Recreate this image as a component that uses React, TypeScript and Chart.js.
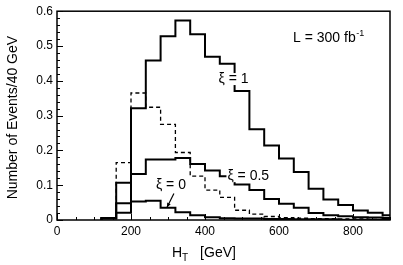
import { useEffect, useRef } from "react";
import { Chart, registerables } from "chart.js";
Chart.register(...registerables);

// bin lower edges (GeV), 40 GeV bins; last edge closes the final bin
const binEdges = [120, 160, 200, 240, 280, 320, 360, 400, 440, 480, 520, 560, 600, 640, 680, 720, 760, 800, 840, 880, 920];

const xi1 = [0.006, 0.107, 0.321, 0.458, 0.528, 0.573, 0.534, 0.469, 0.449, 0.371, 0.261, 0.214, 0.177, 0.138, 0.090, 0.059, 0.043, 0.027, 0.021, 0.014];
const xi05 = [0.005, 0.048, 0.132, 0.174, 0.174, 0.178, 0.161, 0.142, 0.126, 0.102, 0.086, 0.060, 0.047, 0.035, 0.020, 0.014, 0.011, 0.008, 0.007, 0.006];
const xi0 = [0.004, 0.021, 0.053, 0.055, 0.035, 0.022, 0.014, 0.008, 0.005, 0.004, 0.004, 0.003, 0.003, 0.002, 0.002, 0.002, 0.001, 0.001, 0.001, 0.001];
const dashedSeries = [0.005, 0.165, 0.365, 0.324, 0.275, 0.194, 0.126, 0.086, 0.065, 0.028, 0.017, 0.010, 0.007, 0.005, 0.004, 0.004, 0.003, 0.003, 0.002, 0.002];

const xMajorTicks = [0, 200, 400, 600, 800];
const yMajorTicks = [0, 0.1, 0.2, 0.3, 0.4, 0.5, 0.6];

const FONT = '"Liberation Sans", Arial, Helvetica, sans-serif';

function toSteps(vals: number[]) {
  const pts: { x: number; y: number }[] = [{ x: binEdges[0], y: 0 }];
  vals.forEach((v, i) => pts.push({ x: binEdges[i], y: v }));
  pts.push({ x: binEdges[vals.length], y: vals[vals.length - 1] });
  return pts;
}

function boxedLabel(ctx: any, text: string, x: number, y: number) {
  const w = ctx.measureText(text).width;
  ctx.fillStyle = "#fff";
  ctx.fillRect(x - w / 2 - 1, y - 6, w + 2, 12);
  ctx.fillStyle = "#000";
  ctx.fillText(text, x, y);
}

const decorPlugin = {
  id: "decor",
  afterDraw(chart: any) {
    const { ctx, chartArea: a, scales } = chart;
    const xs = scales.x;
    const ys = scales.y;
    ctx.save();
    // frame
    ctx.strokeStyle = "#000";
    ctx.lineWidth = 1.5;
    ctx.strokeRect(a.left, a.top, a.right - a.left, a.bottom - a.top);
    // inward ticks
    ctx.lineWidth = 1;
    for (let v = 0; v <= 900; v += 50) {
      const px = Math.round(xs.getPixelForValue(v)) + 0.5;
      const len = v % 200 === 0 ? 6 : 3;
      ctx.beginPath();
      ctx.moveTo(px, a.bottom);
      ctx.lineTo(px, a.bottom - len);
      ctx.stroke();
    }
    for (let i = 0; i <= 30; i++) {
      const v = i * 0.02;
      const py = Math.round(ys.getPixelForValue(v)) + 0.5;
      const len = i % 5 === 0 ? 6 : 3;
      ctx.beginPath();
      ctx.moveTo(a.left, py);
      ctx.lineTo(a.left + len, py);
      ctx.stroke();
    }
    // annotations
    ctx.fillStyle = "#000";
    ctx.textBaseline = "middle";
    ctx.textAlign = "center";
    ctx.font = `14px ${FONT}`;
    boxedLabel(ctx, "ξ = 1", xs.getPixelForValue(477), ys.getPixelForValue(0.405));
    boxedLabel(ctx, "ξ = 0.5", xs.getPixelForValue(517), ys.getPixelForValue(0.126));
    boxedLabel(ctx, "ξ = 0", xs.getPixelForValue(308), ys.getPixelForValue(0.1));
    // arrow for xi = 0
    const ax1 = xs.getPixelForValue(316), ay1 = ys.getPixelForValue(0.076);
    const ax2 = xs.getPixelForValue(297), ay2 = ys.getPixelForValue(0.036);
    ctx.lineWidth = 1.2;
    ctx.beginPath();
    ctx.moveTo(ax1, ay1);
    ctx.lineTo(ax2, ay2);
    ctx.stroke();
    const ang = Math.atan2(ay2 - ay1, ax2 - ax1);
    ctx.beginPath();
    ctx.moveTo(ax2, ay2);
    ctx.lineTo(ax2 - 5 * Math.cos(ang - 0.4), ay2 - 5 * Math.sin(ang - 0.4));
    ctx.lineTo(ax2 - 5 * Math.cos(ang + 0.4), ay2 - 5 * Math.sin(ang + 0.4));
    ctx.closePath();
    ctx.fill();
    // luminosity
    ctx.textAlign = "left";
    ctx.font = `14px ${FONT}`;
    const lx = xs.getPixelForValue(638);
    const ly = ys.getPixelForValue(0.522);
    const main = "L = 300 fb";
    ctx.fillText(main, lx, ly);
    const w = ctx.measureText(main).width;
    ctx.font = `9px ${FONT}`;
    ctx.fillText("-1", lx + w + 0.5, ly - 5);
    // x title with subscript
    ctx.font = `14px ${FONT}`;
    const tx = 172, ty = 253;
    ctx.fillText("H", tx, ty);
    const hw = ctx.measureText("H").width;
    ctx.font = `10px ${FONT}`;
    ctx.fillText("T", tx + hw, ty + 5);
    ctx.font = `14px ${FONT}`;
    ctx.fillText("[GeV]", tx + hw + 18, ty);
    // y title
    ctx.save();
    ctx.translate(13, (a.top + a.bottom) / 2 + 2);
    ctx.rotate(-Math.PI / 2);
    ctx.textAlign = "center";
    ctx.font = `14px ${FONT}`;
    ctx.fillText("Number of Events/40 GeV", 0, 0);
    ctx.restore();
    ctx.restore();
  },
};

export default function App() {
  const ref = useRef<HTMLCanvasElement | null>(null);
  useEffect(() => {
    document.body.style.margin = "0";
    if (!ref.current) return;
    const common = { pointRadius: 0, stepped: "before" as const, fill: false, borderColor: "#000" };
    const chart = new Chart(ref.current, {
      type: "line",
      data: {
        datasets: [
          { ...common, label: "dashed", data: toSteps(dashedSeries), borderWidth: 1.3, borderDash: [4, 3] },
          { ...common, label: "xi=0", data: toSteps(xi0), borderWidth: 2 },
          { ...common, label: "xi=0.5", data: toSteps(xi05), borderWidth: 2 },
          { ...common, label: "xi=1", data: toSteps(xi1), borderWidth: 2 },
        ],
      },
      options: {
        animation: false,
        responsive: false,
        maintainAspectRatio: false,
        layout: { padding: { top: 5, right: 13, left: 0, bottom: 0 } },
        plugins: { legend: { display: false }, tooltip: { enabled: false } },
        scales: {
          x: {
            type: "linear",
            min: 0,
            max: 900,
            afterBuildTicks: (s: any) => { s.ticks = xMajorTicks.map((v) => ({ value: v })); },
            afterFit: (s: any) => { s.height = 45; },
            grid: { display: false, drawTicks: false },
            border: { display: false },
            ticks: { color: "#000", font: { family: FONT, size: 12 }, padding: 4, maxRotation: 0, callback: (v: any) => String(v) },
          },
          y: {
            type: "linear",
            min: 0,
            max: 0.6,
            afterBuildTicks: (s: any) => { s.ticks = yMajorTicks.map((v) => ({ value: v })); },
            afterFit: (s: any) => { s.width = 57; },
            grid: { display: false, drawTicks: false },
            border: { display: false },
            ticks: { color: "#000", font: { family: FONT, size: 12 }, padding: 4, callback: (v: any) => (v === 0 ? "0" : Number(v).toFixed(1)) },
          },
        },
      },
      plugins: [decorPlugin],
    });
    return () => chart.destroy();
  }, []);
  return <canvas ref={ref} width={403} height={265} style={{ display: "block" }} />;
}
